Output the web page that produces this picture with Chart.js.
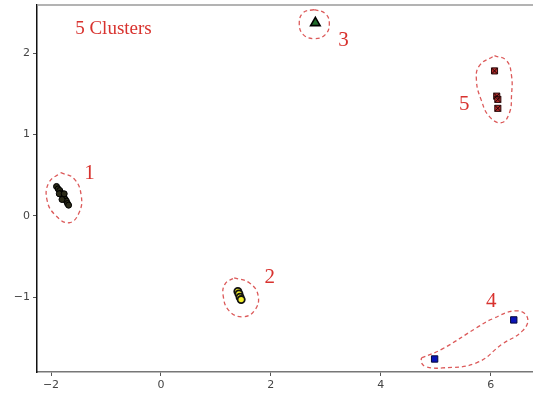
<!DOCTYPE html>
<html>
<head>
<meta charset="utf-8">
<script src="https://cdn.jsdelivr.net/npm/chart.js@4"></script>
<style>
  html, body { margin: 0; padding: 0; background: #fff; overflow: hidden; }
  #wrap { width: 533px; height: 398px; }
  canvas { display: block; }
</style>
</head>
<body>
<div id="wrap"><canvas id="c" width="533" height="398"></canvas></div>
<script>
// Cluster members
const cluster1 = [
  {x: -1.90, y: 0.36}, {x: -1.87, y: 0.33}, {x: -1.84, y: 0.31}, {x: -1.82, y: 0.28},
  {x: -1.80, y: 0.26}, {x: -1.78, y: 0.24}, {x: -1.76, y: 0.22}, {x: -1.74, y: 0.20},
  {x: -1.72, y: 0.18}, {x: -1.70, y: 0.15}, {x: -1.68, y: 0.13}, {x: -1.85, y: 0.27},
  {x: -1.76, y: 0.27}, {x: -1.80, y: 0.20}
];
const cluster2 = [
  {x: 1.40, y: -0.93}, {x: 1.42, y: -0.96}, {x: 1.44, y: -1.00}, {x: 1.46, y: -1.03}
];
const cluster3 = [ {x: 2.81, y: 2.37} ];
const cluster4 = [ {x: 4.98, y: -1.76}, {x: 6.42, y: -1.28} ];
const cluster5 = [ {x: 6.07, y: 1.78}, {x: 6.11, y: 1.47}, {x: 6.13, y: 1.43}, {x: 6.13, y: 1.32} ];

// Hand-drawn dashed boundaries around each cluster
const ring1 = [
  {x: -1.82, y: 0.53}, {x: -1.58, y: 0.455}, {x: -1.45, y: 0.246}, {x: -1.49, y: 0.037},
  {x: -1.67, y: -0.086}, {x: -1.91, y: 0.0}, {x: -2.07, y: 0.185}, {x: -2.04, y: 0.406},
  {x: -1.82, y: 0.53}
];
const ring2 = [
  {x: 1.333, y: -0.763}, {x: 1.607, y: -0.824}, {x: 1.770, y: -0.984}, {x: 1.698, y: -1.169},
  {x: 1.479, y: -1.242}, {x: 1.242, y: -1.169}, {x: 1.133, y: -0.984}, {x: 1.169, y: -0.836},
  {x: 1.333, y: -0.763}
];
const ring3 = [
  {x: 2.790, y: 2.534}, {x: 2.991, y: 2.485}, {x: 3.064, y: 2.362}, {x: 2.991, y: 2.226},
  {x: 2.790, y: 2.177}, {x: 2.590, y: 2.226}, {x: 2.517, y: 2.362}, {x: 2.590, y: 2.497},
  {x: 2.790, y: 2.534}
];
const ring4 = [
  {x: 4.740, y: -1.747}, {x: 5.122, y: -1.636}, {x: 5.741, y: -1.378}, {x: 6.033, y: -1.267},
  {x: 6.470, y: -1.168}, {x: 6.670, y: -1.255}, {x: 6.579, y: -1.415}, {x: 6.215, y: -1.574},
  {x: 5.741, y: -1.808}, {x: 5.122, y: -1.870}, {x: 4.831, y: -1.857}, {x: 4.740, y: -1.808},
  {x: 4.740, y: -1.747}
];
const ring5 = [
  {x: 6.069, y: 1.968}, {x: 6.288, y: 1.907}, {x: 6.379, y: 1.722}, {x: 6.379, y: 1.476},
  {x: 6.342, y: 1.267}, {x: 6.197, y: 1.144}, {x: 5.978, y: 1.218}, {x: 5.832, y: 1.415},
  {x: 5.741, y: 1.661}, {x: 5.796, y: 1.845}, {x: 6.069, y: 1.968}
];

// Annotation texts and their anchor points (data units)
const clusterLabels = ['1', '2', '3', '4', '5'];
const clusterLabelPos = [
  {x: -1.30, y: 0.52}, {x: 1.98, y: -0.76}, {x: 3.32, y: 2.15}, {x: 6.01, y: -1.05}, {x: 5.52, y: 1.37}
];
const titleText = '5 Clusters';
const titlePos = {x: -1.56, y: 2.30};

const xTicks = [-2, 0, 2, 4, 6];
const yTicks = [-1, 0, 1, 2];

const RED = '#d8322e';
const RING = '#dc5a5a';

function ringSet(pts) {
  return {
    type: 'line', data: pts, borderColor: RING, borderWidth: 1.3,
    borderDash: [4, 3], tension: 0.45, pointRadius: 0, fill: false, order: 5
  };
}

const annotate = {
  id: 'annotate',
  afterDraw(chart) {
    const {ctx, chartArea, scales: {x, y}} = chart;
    ctx.save();
    // top frame line
    ctx.strokeStyle = '#9a9a9a';
    ctx.lineWidth = 1.5;
    ctx.beginPath();
    ctx.moveTo(chartArea.left, chartArea.top);
    ctx.lineTo(chartArea.right, chartArea.top);
    ctx.stroke();

    ctx.fillStyle = RED;
    ctx.textBaseline = 'middle';
    ctx.textAlign = 'center';
    ctx.font = '21px "Liberation Serif", serif';
    clusterLabels.forEach((t, i) => {
      ctx.fillText(t, x.getPixelForValue(clusterLabelPos[i].x), y.getPixelForValue(clusterLabelPos[i].y));
    });
    ctx.textAlign = 'left';
    ctx.font = '19px "Liberation Serif", serif';
    ctx.fillText(titleText, x.getPixelForValue(titlePos.x), y.getPixelForValue(titlePos.y));
    ctx.restore();
  }
};

const minus = v => String(v).replace('-', '\u2212');

new Chart(document.getElementById('c'), {
  type: 'scatter',
  data: {
    datasets: [
      ringSet(ring1), ringSet(ring2), ringSet(ring3), ringSet(ring4), ringSet(ring5),
      { data: cluster1, pointStyle: 'circle', pointRadius: 3, backgroundColor: '#2a2a18', borderColor: '#000', borderWidth: 1, order: 1 },
      { data: cluster2, pointStyle: 'circle', pointRadius: 3.6, backgroundColor: '#f2ee2a', borderColor: '#111', borderWidth: 1.8, order: 1 },
      { data: cluster3, pointStyle: 'triangle', pointRadius: 5.5, backgroundColor: '#1f6b2a', borderColor: '#000', borderWidth: 1.6, order: 1 },
      { data: cluster4, pointStyle: 'rect', pointRadius: 4.5, backgroundColor: '#0a14b8', borderColor: '#06083a', borderWidth: 1, order: 1 },
      { data: cluster5, pointStyle: 'rect', pointRadius: 4.3, backgroundColor: '#b52a2a', borderColor: '#2a0a0a', borderWidth: 1, order: 2 },
      { data: cluster5, pointStyle: 'crossRot', pointRadius: 4.3, borderColor: '#1a0505', borderWidth: 1, order: 1 }
    ]
  },
  options: {
    responsive: false,
    animation: false,
    events: [],
    layout: { autoPadding: false, padding: { top: 5, right: 0, left: 0, bottom: 0 } },
    plugins: { legend: { display: false }, tooltip: { enabled: false } },
    scales: {
      x: {
        type: 'linear', min: -2.255, max: 6.77,
        afterBuildTicks: s => { s.ticks = xTicks.map(v => ({value: v})); },
        afterFit: s => { s.height = 26; s.paddingLeft = 0; s.paddingRight = 0; },
        grid: { drawOnChartArea: false, drawTicks: true, tickLength: 4, color: '#555' },
        border: { display: true, color: '#777', width: 1.5 },
        ticks: { color: '#444', font: { family: '"DejaVu Sans", sans-serif', size: 11 }, padding: 3, callback: minus, maxRotation: 0 }
      },
      y: {
        type: 'linear', min: -1.92, max: 2.59,
        afterBuildTicks: s => { s.ticks = yTicks.map(v => ({value: v})); },
        afterFit: s => { s.width = 37; s.paddingTop = 0; s.paddingBottom = 0; },
        grid: { drawOnChartArea: false, drawTicks: true, tickLength: 4, color: '#555' },
        border: { display: true, color: '#111', width: 1.5 },
        ticks: { color: '#444', font: { family: '"DejaVu Sans", sans-serif', size: 11 }, padding: 3, callback: minus }
      }
    }
  },
  plugins: [annotate]
});
</script>
</body>
</html>
